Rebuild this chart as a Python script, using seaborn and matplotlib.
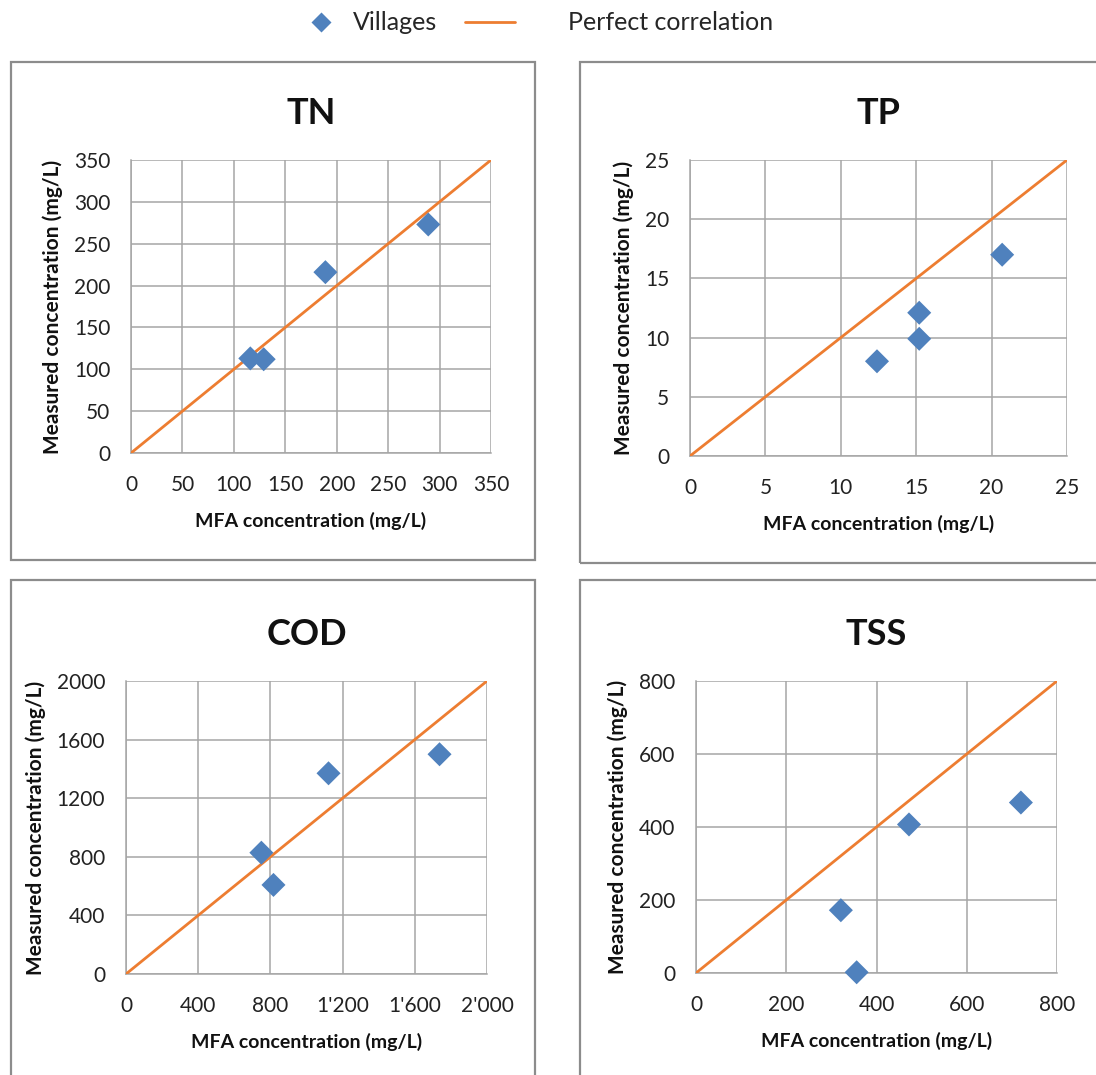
import matplotlib
matplotlib.use("Agg")
import matplotlib.pyplot as plt
import seaborn as sns
import pandas as pd
from matplotlib.patches import Rectangle
from matplotlib.lines import Line2D
from matplotlib.ticker import FuncFormatter

sns.set_theme(style="white")
plt.rcParams['font.family'] = ['Lato', 'DejaVu Sans']

# ---- data ----
panels = ["TN", "TP", "COD", "TSS"]
tn_mfa = [116, 129, 189, 289]
tn_meas = [113, 112, 216, 273]
tp_mfa = [12.4, 15.2, 15.2, 20.7]
tp_meas = [8.0, 12.1, 9.9, 17.0]
cod_mfa = [750, 817, 1122, 1737]
cod_meas = [828, 608, 1370, 1500]
tss_mfa = [321, 356, 472, 720]
tss_meas = [172, 2, 407, 467]
axis_max = [350, 25, 2000, 800]
tick_steps = [50, 5, 400, 200]
legend_labels = ["Villages", "Perfect correlation"]

mfa = [tn_mfa, tp_mfa, cod_mfa, tss_mfa]
meas = [tn_meas, tp_meas, cod_meas, tss_meas]

W, H = 1096, 1075
fig = plt.figure(figsize=(W / 100, H / 100), dpi=100)

BLUE = "#4F81BD"
ORANGE = "#ED7D31"
GRID = "#A6A6A6"
BOX = "#8C8C8C"

# axes rectangles in pixels: (left, top, right, bottom)
ax_px = [(131, 160, 491, 453), (690, 160, 1067, 456),
         (126, 681, 487, 974), (696, 681, 1057, 973)]
box_px = [(11, 62, 535, 560), (580, 62, 1100, 563),
          (11, 580, 535, 1080), (580, 580, 1100, 1080)]


def apostrophe(v, pos):
    v = int(round(v))
    return f"{v:,}".replace(",", "'")


for i, name in enumerate(panels):
    bl, bt, br, bb = box_px[i]
    fig.patches.append(Rectangle((bl / W, 1 - bb / H), (br - bl) / W, (bb - bt) / H,
                                 transform=fig.transFigure, fill=False,
                                 edgecolor=BOX, linewidth=1.6, zorder=0))
    l, t, r, b = ax_px[i]
    ax = fig.add_axes([l / W, 1 - b / H, (r - l) / W, (b - t) / H])
    m = axis_max[i]
    df = pd.DataFrame({"MFA": mfa[i], "Measured": meas[i]})
    line_df = pd.DataFrame({"x": [0, m], "y": [0, m]})
    sns.lineplot(data=line_df, x="x", y="y", ax=ax, color=ORANGE, linewidth=2,
                 zorder=3)
    sns.scatterplot(data=df, x="MFA", y="Measured", ax=ax, marker="D", s=150,
                    color=BLUE, edgecolor="none", zorder=4, clip_on=False)
    ax.set_xlim(0, m)
    ax.set_ylim(0, m)
    step = tick_steps[i]
    ticks = [k * step for k in range(int(round(m / step)) + 1)]
    ax.set_xticks(ticks)
    ax.set_yticks(ticks)
    if name == "COD":
        ax.xaxis.set_major_formatter(FuncFormatter(apostrophe))
    ax.grid(True, color=GRID, linewidth=1.1)
    ax.set_axisbelow(True)
    for s in ["top", "right"]:
        ax.spines[s].set_visible(False)
    for s in ["left", "bottom"]:
        ax.spines[s].set_color(GRID)
        ax.spines[s].set_linewidth(1.1)
    ax.tick_params(axis="both", which="major", direction="out", length=6,
                   width=1.1, color=GRID, labelsize=15, labelcolor="#222222")
    ax.tick_params(axis="x", pad=10)
    ax.tick_params(axis="y", pad=9)
    ax.set_xlabel("MFA concentration (mg/L)", fontsize=14, fontweight="bold",
                  color="#111111", labelpad=12)
    ax.set_ylabel("Measured concentration (mg/L)", fontsize=15,
                  fontweight="bold", color="#111111", labelpad=8)
    ax.set_title(name, fontsize=26, fontweight="bold", color="#111111", pad=26)

h1 = Line2D([], [], marker="D", color=BLUE, linestyle="none",
            markersize=10, markeredgecolor="none")
h2 = Line2D([], [], color=ORANGE, linewidth=2)
leg1 = fig.legend([h1], [legend_labels[0]], loc="center left",
                  bbox_to_anchor=(308 / W, 1 - 23 / H), frameon=False,
                  fontsize=18, handlelength=1.0, handletextpad=0.8, borderpad=0,
                  borderaxespad=0)
leg2 = fig.legend([h2], [legend_labels[1]], loc="center left",
                  bbox_to_anchor=(465 / W, 1 - 23 / H), frameon=False,
                  fontsize=18, handlelength=2.0, handletextpad=2.1, borderpad=0,
                  borderaxespad=0)

fig.savefig("out.png", dpi=100)
